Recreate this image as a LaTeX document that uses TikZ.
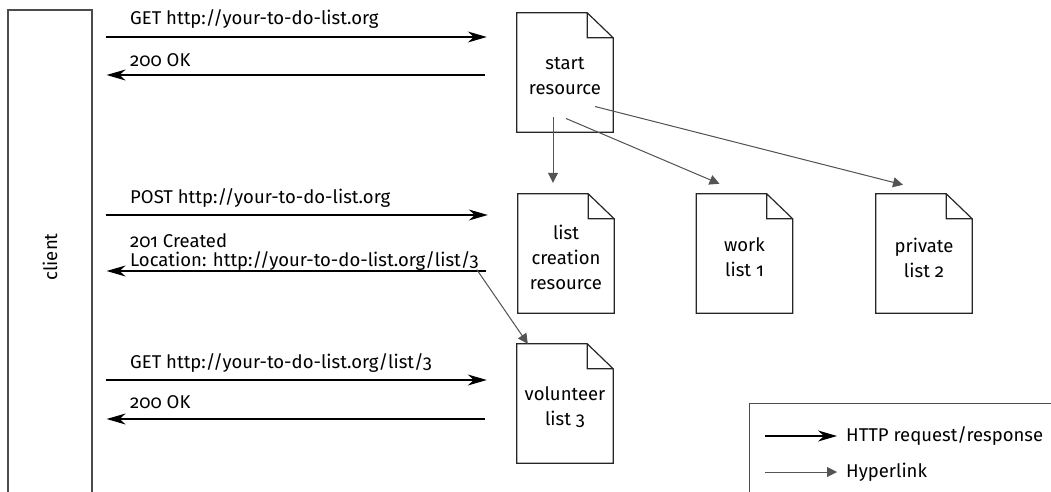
\documentclass[tikz,border=0pt]{standalone}
\usepackage{fontspec}
\setmainfont{Fira Sans}[Numbers=OldStyle]
\usetikzlibrary{arrows.meta}
\tikzset{
  doc/.style={minimum width=96pt, minimum height=127pt, inner sep=0pt,
    align=center, font=\fontsize{18.5}{25}\selectfont},
  docline/.style={draw=black!85, line width=1.2pt},
  msg/.style={anchor=west, inner sep=0pt, align=left,
    font=\fontsize{18.5}{19}\selectfont},
  req/.style={line width=1.3pt, -{Stealth[length=19pt,width=11pt,inset=6pt]}},
  link/.style={draw=black!67, fill=black!67, line width=1pt,
    -{Triangle[length=10pt,width=10pt]}},
}
\begin{document}
\begin{tikzpicture}[x=1pt,y=-1pt]
      \useasboundingbox (0,0) rectangle (1051,492);
      % client and resources
      \node[draw=black!70, line width=1.2pt, minimum width=84pt,
        minimum height=494pt, inner sep=0pt] (client) at (50,257) {};
      \node[rotate=90, font=\fontsize{18.5}{18}\selectfont] (clientlabel)
        at (client.center) {client};
      \draw
        (565,76.5) node[doc] (start){start\\resource}
        (566,257.5) node[doc] (create){list\\creation\\resource}
        (744.5,257.5) node[doc] (work){work\\list 1}
        (924,257.5) node[doc] (private){private\\list 2}
        (565,407.5) node[doc] (volunteer){volunteer\\list 3};
      \foreach \d in {start,create,work,private,volunteer}
        \draw[docline] (\d.north west) -- ([xshift=-26pt]\d.north east)
          -- ([yshift=-25pt]\d.north east) -- ([yshift=8pt]\d.south east)
          -- ([yshift=8pt]\d.south west) -- cycle
          ([xshift=-26pt]\d.north east) |- ([yshift=-25pt]\d.north east);
      % requests and responses
      \node[msg] (get1) at (130,19) {GET http://your-to-do-list.org};
      \node[msg] (ok1) at (130,60) {200 OK};
      \node[msg] (post) at (130,198) {POST http://your-to-do-list.org};
      \node[msg] (created) at (130,252)
        {201 Created\\Location: http://your-to-do-list.org/list/3};
      \node[msg] (get3) at (130,363) {GET http://your-to-do-list.org/list/3};
      \node[msg] (ok3) at (130,402) {200 OK};
      \begin{scope}[shorten <=13pt, shorten >=30pt]
        \draw[req] (client.east |- 0,37) -- (start.west |- 0,37);
        \draw[req] (client.east |- 0,215) -- (create.west |- 0,215);
        \draw[req] (client.east |- 0,380) -- (volunteer.west |- 0,380);
      \end{scope}
      \begin{scope}[shorten <=32pt, shorten >=14pt]
        \draw[req] (start.west |- 0,75) -- (client.east |- 0,75);
        \draw[req] (create.west |- 0,271) -- (client.east |- 0,271);
        \draw[req] (volunteer.west |- 0,419) -- (client.east |- 0,419);
      \end{scope}
      % hyperlinks
      \draw[link] ([shift={(-12pt,-41pt)}]start.center)
        -- ([shift={(-13pt,11pt)}]create.north);
      \draw[link] ([shift={(1pt,-42pt)}]start.center)
        -- ([shift={(-25pt,10pt)}]work.north);
      \draw[link] ([shift={(30pt,-30pt)}]start.center)
        -- ([shift={(-21pt,9pt)}]private.north);
      \draw[link] ([shift={(-2pt,1pt)}]created.south east)
        -- ([xshift=11pt]volunteer.north west);
      % legend
      \node[draw=black!70, line width=1.2pt, anchor=north west,
        minimum width=320pt, minimum height=100pt] (legend) at (749,403) {};
      \coordinate (reqstart) at (765,436);
      \coordinate (linkstart) at (765,472);
      \node[msg] (reqtext) at (846,436) {HTTP request/response};
      \node[msg] (linktext) at (846,472) {Hyperlink};
      \draw[req, shorten >=9pt] (reqstart) -- (reqtext.west);
      \draw[link, shorten >=9pt] (linkstart) -- (linktext.west);
    \end{tikzpicture}
\end{document}
